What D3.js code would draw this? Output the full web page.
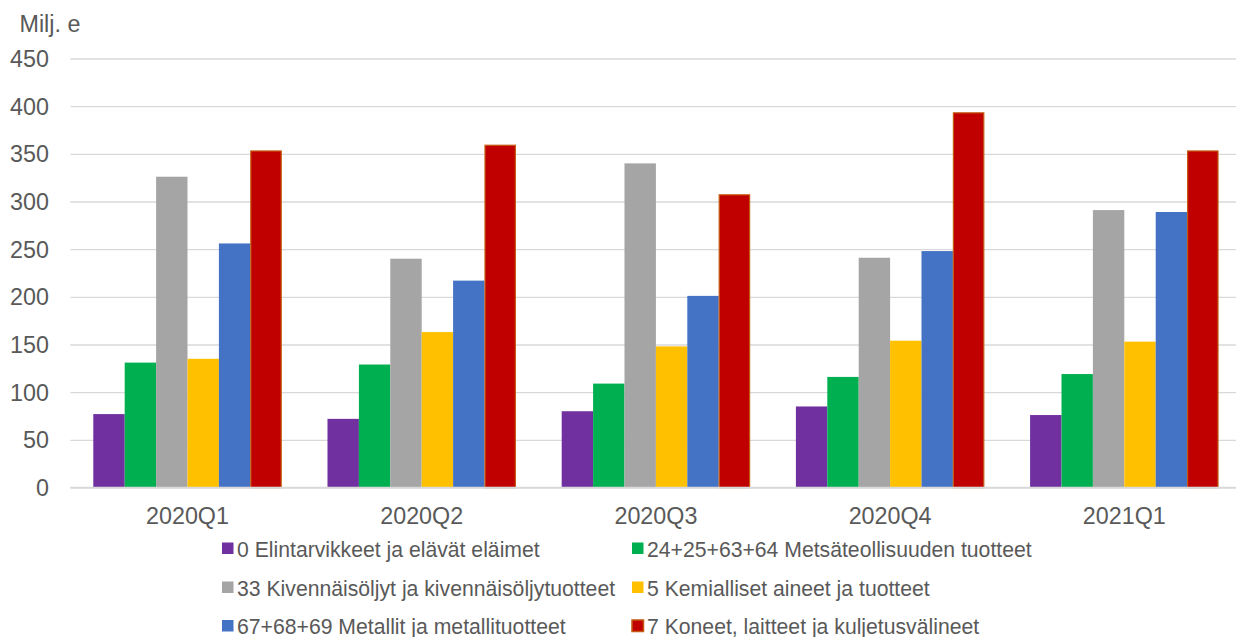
<!DOCTYPE html>
<html>
<head>
<meta charset="utf-8">
<script src="https://cdn.jsdelivr.net/npm/d3@7"></script>
<style>
  html, body { margin: 0; padding: 0; background: #fff; }
  svg { display: block; font-family: "Liberation Sans", Arial, sans-serif; }
</style>
</head>
<body>
<svg id="chart" width="1236" height="637"></svg>
<script>
const quarters = ["2020Q1", "2020Q2", "2020Q3", "2020Q4", "2021Q1"];
const seriesNames = [
  "0 Elintarvikkeet ja elävät eläimet",
  "24+25+63+64 Metsäteollisuuden tuotteet",
  "33 Kivennäisöljyt ja kivennäisöljytuotteet",
  "5 Kemialliset aineet ja tuotteet",
  "67+68+69 Metallit ja metallituotteet",
  "7 Koneet, laitteet ja kuljetusvälineet"
];
const food      = [77, 72, 80, 85, 76];
const forest    = [131, 129, 109, 116, 119];
const oil       = [326, 240, 340, 241, 291];
const chemicals = [135, 163, 148, 154, 153];
const metals    = [256, 217, 201, 248, 289];
const machinery = [353, 359, 307, 393, 353];
const yTicks = [0, 50, 100, 150, 200, 250, 300, 350, 400, 450];
const yUnit = "Milj. e";

const seriesValues = [food, forest, oil, chemicals, metals, machinery];
const fills   = ["#7030A0", "#00B050", "#A5A5A5", "#FFC000", "#4472C4", "#C00000"];
const strokes = ["#8a55b3", "#33c073", "#b7b7b7", "#ffcd33", "#6a8fd0", "#C55A11"];

const svg = d3.select("#chart");
const textColor = "#595959";

const plotLeft = 70.4, step = 234.2;
const x0 = d3.scaleBand().domain(quarters).range([plotLeft, plotLeft + step * quarters.length]).padding(0);
const gap = x0.bandwidth() * 0.1955;
const x1 = d3.scaleBand().domain(d3.range(seriesNames.length)).range([gap / 2, x0.bandwidth() - gap / 2]).padding(0);
const y = d3.scaleLinear().domain([0, 450]).range([487.5, 58.5]);

// gridlines + y labels via axis
const yAxis = d3.axisLeft(y).tickValues(yTicks).tickSize(-(1236 - plotLeft + 10)).tickPadding(21.5);
const gy = svg.append("g").attr("transform", `translate(${plotLeft},0)`).call(yAxis);
gy.select(".domain").remove();
gy.selectAll(".tick line").attr("stroke", "#D9D9D9").attr("stroke-width", 1.3);
gy.selectAll(".tick text").attr("fill", textColor).attr("font-size", "23.3px")
  .attr("font-family", "'Liberation Sans', Arial, sans-serif").attr("dy", "0.35em");

svg.append("text").attr("x", 19.5).attr("y", 32).attr("fill", textColor)
  .attr("font-size", "23.3px").text(yUnit);

// bars
const groups = svg.append("g").selectAll("g").data(quarters).join("g")
  .attr("transform", d => `translate(${x0(d)},0)`);
groups.selectAll("rect").data((q, qi) => seriesValues.map((vals, si) => ({ si, v: vals[qi] })))
  .join("rect")
  .attr("x", d => x1(d.si) + (d.si === 5 ? 0.5 : 0))
  .attr("width", d => x1.bandwidth() - (d.si === 5 ? 1 : 0))
  .attr("y", d => y(d.v))
  .attr("height", d => y(0) - y(d.v))
  .attr("fill", d => fills[d.si])
  .attr("stroke", d => d.si === 5 ? strokes[5] : "none")
  .attr("stroke-width", d => d.si === 5 ? 1.2 : 0);

// baseline
svg.append("line").attr("x1", plotLeft).attr("x2", 1236).attr("y1", y(0)).attr("y2", y(0))
  .attr("stroke", "#D9D9D9").attr("stroke-width", 1.3);

// x labels via axis
const xAxis = d3.axisBottom(x0).tickSize(0).tickPadding(0);
const gx = svg.append("g").attr("transform", `translate(0,${y(0)})`).call(xAxis);
gx.select(".domain").remove();
gx.selectAll(".tick text").attr("fill", textColor).attr("font-size", "23.3px")
  .attr("font-family", "'Liberation Sans', Arial, sans-serif").attr("dy", null).attr("y", 36.5);

// legend
const legendPos = [
  { x: 222, y: 556.5 }, { x: 632, y: 556.5 },
  { x: 222, y: 595.5 }, { x: 632, y: 595.5 },
  { x: 222, y: 634 },   { x: 632, y: 634 }
];
const lg = svg.append("g").selectAll("g").data(seriesNames).join("g")
  .attr("transform", (d, i) => `translate(${legendPos[i].x},${legendPos[i].y})`);
lg.append("rect").attr("x", 0).attr("y", -14).attr("width", 11.5).attr("height", 11.5)
  .attr("fill", (d, i) => fills[i])
  .attr("stroke", (d, i) => i === 5 ? strokes[5] : "none").attr("stroke-width", 1.5);
lg.append("text").attr("x", 15).attr("y", 0).attr("fill", textColor)
  .attr("font-size", "21.2px").text(d => d);
</script>
</body>
</html>
